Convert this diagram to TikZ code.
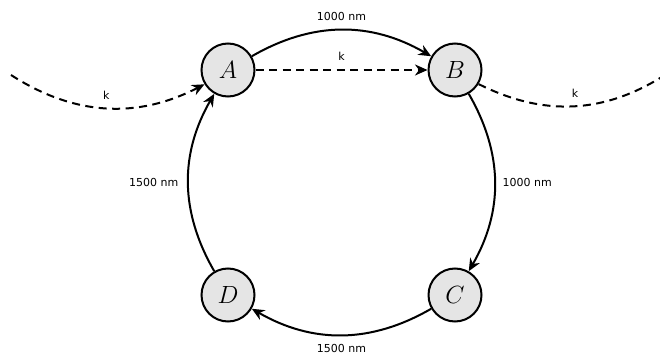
\documentclass[tikz,border=0pt]{standalone}
\usepackage{fontspec}
\newfontfamily\lblfont{DejaVu Sans}
\usetikzlibrary{arrows.meta}
\begin{document}
\begin{tikzpicture}[x=1pt,y=1pt,
  state/.style={circle, draw, line width=2pt, fill=gray!20, minimum size=53pt, inner sep=0pt, font=\fontsize{25}{27}\selectfont},
  link/.style={line width=2pt, -{Stealth[length=12.5pt,width=11pt,inset=4pt]}},
  dlink/.style={link, dash pattern=on 8pt off 5.5pt},
  dplain/.style={line width=2pt, dash pattern=on 8pt off 5.5pt},
  lbl/.style={font=\lblfont\fontsize{11}{13}\selectfont, inner sep=2pt}]
\useasboundingbox (0,0) rectangle (660,359);
\clip (0,0) rectangle (660,359);
\node[state] (A) at (228,289) {$A$};
\node[state] (B) at (455,289) {$B$};
\node[state] (C) at (455,64) {$C$};
\node[state] (D) at (228,64) {$D$};
\coordinate (ls) at (11,284);
\coordinate (re) at (668,286);
\draw[link] (A) to[bend left=30] node[lbl, midway, above=6pt] {1000 nm} (B);
\draw[dlink] (A) -- node[lbl, midway, above=6pt] {k} (B);
\draw[link] (B) to[bend left=30] node[lbl, midway, right=5pt] {1000 nm} (C);
\draw[link] (C) to[bend left=30] node[lbl, midway, below=6pt] {1500 nm} (D);
\draw[link] (D) to[bend left=30] node[lbl, midway, left=7pt] {1500 nm} (A);
\draw[dlink] (ls) to[bend right=30] node[lbl, midway, above=6pt] {k} (A);
\draw[dplain] (B) to[bend right=30] node[lbl, midway, above=6pt] {k} (re);
\end{tikzpicture}
\end{document}
